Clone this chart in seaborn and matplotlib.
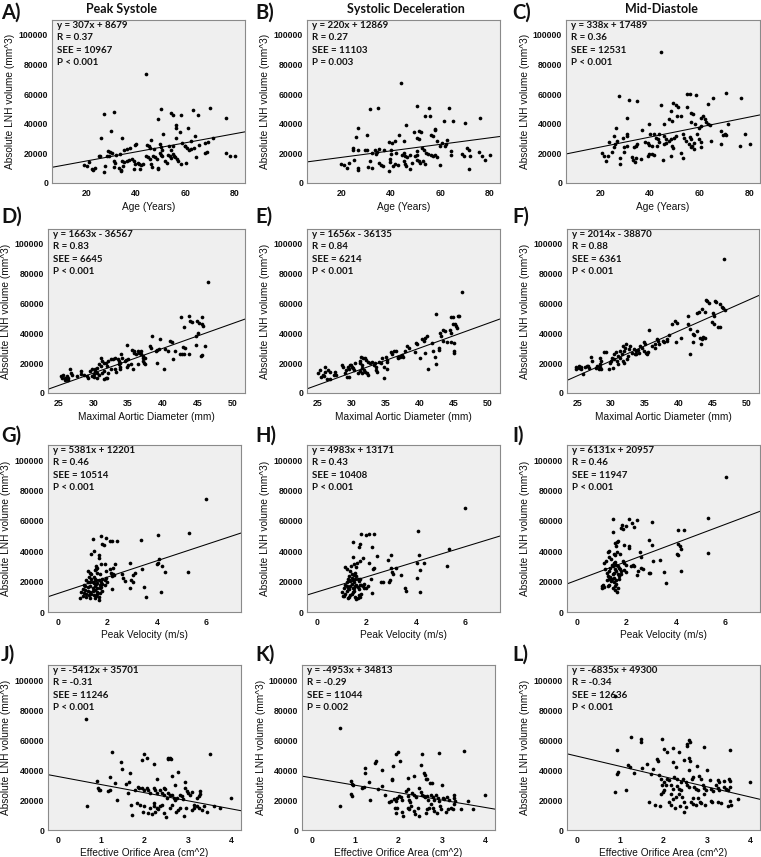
import matplotlib
matplotlib.use("Agg")
import matplotlib.pyplot as plt
import seaborn as sns
import numpy as np
import pandas as pd

# ---------------- data (x, LNH volume in thousands of mm^3) ----------------
pts_A = [(44.2,73.5),(27.4,46.5),(31.3,47.9),(50.3,49.9),(63.2,49.4),(70,50.5),(54.2,47),(55.3,45.6),(58.2,45.6),(65.3,45.6),(49.2,43.1),(76.4,43.8),(30.2,35.3),(56.3,39.1),(56.3,37.3),(61.2,36.9),(58,34.2),(26.2,30.3),(34.3,30.3),(51.1,32.8),(56.3,30.3),(64.1,31.7),(71.3,30.3),(62.4,28.1),(69.4,27.4),(68.2,27),(46.4,29.2),(39.9,25.4),(40.3,26.5),(37.9,23.6),(44.6,25.8),(45.3,24.7),(46,23.6),(47.3,22.9),(50,26),(50.4,24.2),(50.8,22.5),(53.4,24.7),(54.4,22.4),(55.1,24.7),(58.7,27),(60,24.7),(65.7,25.4),(63.5,23.6),(60.8,23.6),(59.8,24.7),(25.5,18.4),(25.3,18),(29,21.3),(29.8,20.9),(30.6,20.2),(29.4,18.4),(32.2,19.1),(33.8,19.8),(35.5,22.5),(36.5,22.9),(21.1,14.2),(19.1,12.4),(20.4,11.2),(22.4,9.4),(22.8,9),(23.5,10.1),(27.4,7.4),(27.5,11.2),(28.5,18),(31.2,14.6),(31.6,13.5),(31.2,10.6),(33.2,10.1),(34.1,9),(34.1,7.9),(34.9,11.2),(34.3,14.8),(35.3,13.9),(36.6,15),(37.5,15.5),(38.6,16.2),(39.2,14.6),(39.9,12.8),(39.5,9.4),(40.8,13.5),(41.5,12.8),(42.2,12.4),(42.8,12.8),(41.9,9.4),(44.2,18.4),(45,17.3),(45.8,16.2),(46.2,12.8),(46.6,10.6),(47,18),(48,17.3),(48.6,16.2),(48.9,9.4),(49.2,10.1),(50,20.2),(50.4,19.1),(50.6,18),(51.9,14.6),(52.6,13.5),(53,19.1),(53.9,18),(54.4,16.9),(54.9,19.8),(55.4,18.4),(55.9,17.3),(56.6,15.9),(57.3,14.6),(58.2,12.8),(60.2,13.7),(61.5,22.4),(62.4,22.9),(64.5,17.5),(68,20.2),(68.7,20.7),(76.4,20.2),(78,18),(80.3,18.4)]

pts_B = [(44.1,67.4),(31.6,50.1),(34.7,50.6),(50.5,52.1),(55.4,50.6),(63.7,50.6),(53.9,45.4),(56.1,45.4),(76,43.8),(46.1,38.9),(61.4,41.6),(65.3,42),(69.9,40.4),(58.1,36.4),(58.1,35.5),(26.9,37.1),(49.6,34.2),(51.6,34.8),(52.3,34.2),(56.3,32.6),(57,31.9),(30.5,32.6),(43.4,32.1),(41.8,28.1),(39.5,27.6),(40.6,27),(45.6,28.1),(50.6,30.3),(51.3,29.7),(25.9,31),(58.8,28.5),(60.8,27),(62.9,29.2),(62.2,26.5),(24.8,23.6),(24.8,22.5),(26.8,22.5),(29.8,22.5),(30.5,22),(33.5,22.5),(35.3,22.9),(37.3,22),(32.5,20.2),(33.9,19.8),(34.6,20.7),(40.2,22.5),(40.2,19.8),(42.2,20.2),(44.6,19.1),(45.6,20.2),(45.7,18),(46.7,17.3),(48,19.1),(50.7,21.3),(50.7,19.1),(52.7,23.6),(53.6,22.5),(54.3,20.2),(55.1,19.8),(56.3,19.1),(57.1,18.4),(58.1,19.1),(58.8,17.5),(60.1,25.2),(62.1,24.7),(64.4,21.8),(64.4,19.1),(68.7,19.8),(69.5,18.4),(71.5,22.5),(70.7,23.6),(75.7,20.9),(76.9,18.4),(78.3,15.7),(80,19.1),(71.8,9.4),(20,12.8),(21.1,12.4),(22.2,10.1),(23,13.7),(25.1,15.7),(27,10.1),(27,8.5),(30.9,10.6),(31.8,14.6),(32.6,10.1),(35.3,13.5),(36,12.4),(36.8,11.2),(39.6,16.2),(39.6,14),(39.2,7.9),(40.9,11.2),(41.8,13.1),(42.8,12.4),(45.2,14.6),(45.9,12.8),(46.1,11.2),(48,9.4),(48.8,13.5),(50,18),(50.7,15.7),(51.6,14.6),(52,13.5),(53,14.6),(53.7,13.1),(60.1,12.4),(72.2,18)]

pts_C = [(44.3,88.3),(27.6,58.7),(31.6,55.8),(34.7,55.2),(55,60.3),(56.1,60.3),(58.6,59.2),(70.4,61),(65.3,57.4),(76.4,57.6),(44.3,52.5),(49.4,54.3),(50.4,52.5),(51.3,51.3),(54.7,51.3),(63.3,53.6),(48.3,48.7),(50.9,45.3),(56.6,47.5),(57.2,46.4),(30.8,44.2),(47.5,43.5),(48.7,41.9),(52.4,45.3),(60.4,44.2),(61.4,45.3),(62,43.5),(45.6,39.7),(39.7,40.1),(39.9,33.4),(26.5,37.4),(36.7,35.7),(56.6,41.5),(57.9,39.9),(59.6,37.4),(60.6,38.3),(64.1,39),(71.3,39.7),(62.6,41.5),(63.3,39.9),(68.4,35.2),(69.4,32.5),(70,33),(70.4,32.1),(78.2,33),(30.6,33),(30.8,31.8),(25.6,31.8),(29,30.7),(41.7,33),(42.4,30.7),(43,29.6),(43.7,33.4),(45.6,31.8),(46.6,29.6),(47.7,28.5),(48.4,29.6),(49.7,30.7),(50.4,31.8),(53.1,33),(53.7,30.7),(54.4,28.5),(56.1,30.9),(56.6,29.4),(59,33),(59.6,29.6),(23.6,27.4),(25.9,26.2),(26.9,28.5),(29.6,24),(30.6,25.1),(33.6,24),(34.5,25.1),(34.9,26.2),(37.9,27.4),(39,26.7),(39.7,25.6),(40.6,25.1),(42.6,25.1),(43.4,27.4),(45.6,26.5),(46.4,27),(55.7,26.2),(56.6,24),(60.4,27.8),(64.4,28.5),(68.4,26.2),(76,25.1),(80,26.2),(57.6,27.2),(20.5,20),(21.6,18.4),(22.4,14.6),(23.2,17.9),(24.5,21),(25.6,24),(27.8,12.6),(27.8,17.1),(29.6,20.6),(32.6,17.3),(33.2,15.2),(33.9,14.4),(34.5,16.6),(36.3,16.1),(39,17.9),(39.7,19.5),(40.7,19.5),(41.4,18.8),(45.1,15.5),(48.4,17.9),(49,24.7),(49.4,23.5),(52.4,20.2),(53.4,16.6),(56.9,25.3),(57.6,22.9),(60.4,24.2)]

pts_D = [(46.5,74.5),(42.6,50.8),(43.8,51.9),(45.6,50.8),(43.1,44),(43.9,48.1),(44.2,47.4),(44.9,48.5),(45.2,47),(45.6,46.3),(45.8,45.1),(45.1,40.2),(44.8,37.9),(38.5,37.9),(34.9,32.3),(41,34.8),(41.3,34.5),(39.6,36.1),(42.9,30.9),(43.2,30.5),(44.8,32.1),(46,31.6),(38.1,31.6),(38.3,30.5),(39,28.2),(39.2,28.7),(39.4,29.3),(40.3,29.3),(40.8,28.2),(41.7,28.2),(42.4,26),(42.7,26),(43,26.4),(43.7,26),(45.5,24.8),(45.6,25.8),(41.4,22.6),(40.2,15.8),(39.2,20.3),(36.4,28.2),(36.6,27.1),(36.9,28.2),(35.9,27.1),(36.2,26),(36.9,26),(37.1,24.8),(37.2,23.7),(37.5,23.7),(37.2,21.4),(37.5,19.2),(37.3,19.9),(35.6,28.7),(35.8,28.2),(34,26),(34.2,23.7),(34.5,21.4),(34.7,21.9),(35,22.6),(33.5,22.6),(33.7,21.4),(33.8,20.3),(33.7,19.2),(33.8,17.4),(33.8,16.3),(32.9,22.8),(33.1,23.7),(32.5,23),(32.1,21.4),(31.9,19.9),(32,18.1),(31.1,23.7),(31.3,21.4),(31.6,20.3),(30.8,19.2),(31.1,18.1),(30.6,17),(30.2,15.8),(30.3,14.7),(30.6,13.5),(29.6,14.7),(29.8,15.8),(30.1,13),(29.8,11.3),(30.1,10.6),(29.1,11.3),(29.3,10.2),(30.6,10.2),(30.8,12.4),(31.3,13.5),(31.6,14.7),(31.8,10.2),(32.1,13.5),(32.5,15.8),(33.1,15.8),(33.3,14.2),(31.6,9.7),(32,10.2),(28.2,14.7),(28.2,13),(28.6,12.4),(27.7,11.3),(26.7,15.8),(26.8,13.5),(26.9,12.4),(26.2,11.3),(26.4,10.2),(26,10.2),(25.9,9),(26.4,8.6),(25.4,11.3),(25.5,10.2),(25.7,12.4),(35.7,16.3),(35.4,19.6),(36.4,19.2),(34.9,17.4),(35,18.6)]

pts_E = [(46.2,67.9),(42.4,53),(44.6,50.8),(44.9,50.8),(45.6,51.5),(45.8,51.5),(44.9,46.3),(45.2,46.3),(45.4,44.7),(45.5,43.6),(44.4,42.4),(43.5,42.4),(43.7,41.3),(43,40.2),(43.2,37.9),(44.6,40.2),(43.5,35),(44,34.1),(44.6,34.5),(45,33.8),(40.8,37.2),(41.1,37.9),(40.3,36.1),(40.6,35),(41.8,33.4),(42,28.2),(42.8,28.9),(42.9,30),(45,28.2),(45.1,27.1),(39.5,33.4),(39.7,32.8),(38.1,31.2),(38.4,30),(37.8,28.2),(37.4,25.5),(37.6,24.4),(39.4,27.3),(40.8,26.6),(42.3,24.4),(42.4,19.6),(41.3,15.8),(40,23.3),(36.9,23.3),(37.1,24.4),(36.3,28.2),(36.6,28.2),(36.9,24.4),(37.3,25.1),(35.8,27.8),(35.9,26),(35.1,24.4),(35.2,22.1),(35.3,21),(34.8,17.6),(35.3,16),(34.8,9.9),(34,21),(34.3,19.9),(34.5,23.3),(33.5,19.9),(33.6,17.6),(33,21),(33.3,18.7),(33.6,15.3),(33.7,14.2),(32.5,21),(32.8,19.9),(32,23.3),(32.2,22.1),(31.4,24.4),(31.7,23.3),(31.3,19.9),(31.5,18.7),(31.6,16.5),(31.2,21.4),(30.5,19.9),(30.1,17.6),(30.2,16.5),(30.4,15.3),(29.8,18.7),(30,18.7),(29.5,17.6),(29.7,16),(29.2,15.3),(29,13.1),(29.3,10.8),(29.6,10.4),(28.6,18.7),(28.8,17.6),(31.5,13.1),(31.8,15.3),(32,14.2),(32.4,12.4),(32.3,13.5),(31.3,14.7),(31,13.1),(27.6,14.2),(27.8,12.4),(27.4,12),(26.6,15.3),(26.9,14.2),(26.1,17.6),(26.2,14.2),(26,11.3),(26.4,9.7),(25.8,12.4),(25.6,10.8),(25.1,13.1),(25.4,15.3),(26.9,9.7)]

pts_F = [(46.6,89.6),(44,62.1),(44.2,61.4),(44.4,60.3),(45.3,61.6),(45.5,60.9),(46.1,59.4),(46.3,58),(46.5,57.1),(46.8,55.8),(43.4,56.4),(43.8,54.2),(42.9,54.2),(42.6,53.5),(45,53.5),(45.1,51.9),(41.4,51.9),(44.9,47.9),(45.2,46.3),(45.8,44.5),(46,44),(39.4,48.1),(39.7,46.7),(39,46.3),(41.3,46.3),(41.6,42.9),(42.6,41.8),(42,39.7),(42.2,39),(43.1,36.6),(43.4,36.1),(43.6,37.7),(43.8,36.8),(42.1,34.1),(43.2,33.2),(41.7,26.4),(39.5,33.9),(38.2,36.1),(38.3,35),(37.6,35),(37.8,33.9),(38.6,38.8),(40.3,36.8),(36.7,36.1),(36.9,35),(37.1,33.2),(36.1,31.6),(35.6,42.2),(36.4,32.7),(36.5,30.5),(34.8,33.9),(35,33.2),(34.3,31.6),(34.5,30.5),(34.8,28.2),(35.1,27.1),(35.3,26),(35.5,27.5),(34,28.7),(34.1,27.1),(33.6,28.2),(33.7,26.4),(33.4,29.3),(33.5,26),(33.1,27.1),(32.7,29.3),(32.8,31.6),(32.1,30.5),(32.2,32.7),(31.7,31.6),(31.9,28.2),(31.3,28.2),(31.6,26.4),(31,25.1),(31.3,23.7),(30.7,27.5),(30.5,26),(30.2,23.7),(30.4,22.6),(30,21.4),(29.8,20.3),(30.8,21.4),(31,19.6),(29.7,15.8),(30.3,16.9),(31.7,21.4),(31.9,20.3),(32.4,22.6),(32.5,24.8),(29,27.8),(29.3,27.5),(28.3,23.7),(28.5,21.4),(28.3,19.2),(28.4,17.4),(28.2,16.3),(28.5,15.8),(27.9,18.1),(27.8,16.5),(27.2,21.4),(27,24.2),(26.6,18.1),(26.7,16.9),(26.4,18.1),(26.1,17.4),(25.5,17.4),(25.6,15.8),(25.3,18.1),(25.2,16.5),(25.9,12.9),(24.8,15.8),(24.9,17.4)]

pts_G = [(6.0,74.3),(1.74,50.3),(1.42,48.1),(1.95,48.8),(1.79,44.7),(1.85,44.3),(2.09,46.5),(2.18,46.5),(2.39,46.5),(3.37,47.4),(4.04,50.8),(5.28,51.9),(1.46,40.3),(1.35,38),(1.66,37.4),(1.66,35.8),(4.08,34.7),(4.04,32.4),(4.02,31.3),(4.19,30.2),(4.31,26.4),(3.39,28.6),(2.9,32),(2.29,31.8),(2.22,29.1),(1.89,31.3),(1.75,31.3),(1.55,30.2),(1.59,29.1),(2.09,28.4),(2.16,25.7),(2.22,25.3),(2.59,25.3),(2.63,22.4),(3.05,24.2),(3.1,25.7),(2.97,21.3),(3.03,19.5),(2.7,20.1),(5.26,26.4),(3.46,16.3),(3.57,10.1),(4.16,13.4),(2.92,15.7),(2.2,15),(1.95,22.4),(1.2,27),(1.3,26),(1.35,25),(1.5,27.5),(1.55,28.5),(1.6,26),(1.7,25),(1.8,22),(1.9,21),(1.25,23),(1.35,22),(1.45,23),(1.5,22),(1.55,21),(1.65,21),(1.75,20),(1.15,21),(1.2,20),(1.3,19.5),(1.4,20),(1.45,19),(1.55,18.5),(1.6,19),(1.7,18),(1.8,18.5),(1.05,18),(1.1,17),(1.2,16.5),(1.3,17),(1.4,16),(1.5,17),(1.6,16),(1.7,15.5),(1.75,16.5),(1.9,17.5),(1.0,15),(1.1,14.5),(1.2,14),(1.3,13.5),(1.4,14),(1.5,14.5),(1.6,13),(1.7,12.5),(0.95,13),(1.05,12.5),(1.15,12),(1.25,11.5),(1.35,12),(1.45,11),(1.55,10.5),(1.65,10),(1.0,10.5),(1.15,10),(1.3,9.5),(1.5,9),(1.65,8),(0.9,9),(1.6,12),(1.8,14),(2.0,20),(1.95,27),(2.2,24),(2.25,24.5)]

pts_H = [(6.0,68.3),(4.07,53.2),(1.78,51.4),(1.98,50.9),(2.12,51.4),(2.32,51.4),(1.44,46.4),(1.75,44.6),(1.71,43),(2.21,43),(5.32,41.2),(4.11,37.8),(2.99,37.8),(2.43,36.7),(1.47,36),(1.85,35.3),(1.75,33.7),(1.64,32.6),(2.86,34.4),(1.58,29.9),(1.51,31.4),(2.12,32.1),(4.03,32.1),(4.34,32.6),(1.15,29.9),(1.38,30.3),(2.32,28.7),(2.25,28),(2.99,29.2),(3.19,28.7),(3.03,26.5),(3.4,24.7),(4.17,27.6),(5.25,30.3),(3.07,24.9),(4.04,22.6),(2.18,21.9),(2.95,21.3),(2.91,19.7),(2.61,19.7),(2.69,19.7),(3.56,15.6),(3.6,14),(4.17,13.3),(2.22,12.7),(2.05,17.4),(1.0,13),(1.05,10.5),(1.1,10.5),(1.15,12),(1.2,14),(1.25,9.5),(1.3,10),(1.35,11),(1.4,12),(1.45,13),(1.5,14),(1.55,10),(1.6,8.5),(1.65,9.5),(1.7,11),(1.75,10),(1.8,12),(1.1,16),(1.15,18),(1.2,17),(1.25,16),(1.3,15),(1.35,17),(1.4,18.5),(1.45,16),(1.5,15.5),(1.55,17),(1.6,18),(1.65,16.5),(1.7,15),(1.75,17.5),(1.8,18),(1.85,17),(1.9,18.5),(1.2,20),(1.25,22),(1.3,21),(1.35,20.5),(1.4,22.5),(1.45,21),(1.5,20),(1.55,22),(1.6,24),(1.65,21.5),(1.7,20.5),(1.75,22),(1.3,24),(1.4,25),(1.5,24.5),(1.55,26),(1.2,28.5),(1.35,27),(1.9,16),(2.0,16)]

pts_I = [(6.03,89.2),(1.44,61.3),(2.12,61.3),(2.43,60.7),(3.02,59.6),(2.21,58.4),(2.29,56.2),(1.98,56.9),(1.81,57.5),(1.78,55.5),(1.85,54.5),(5.28,61.8),(1.44,52.4),(4.1,53.9),(4.34,53.9),(1.62,46.3),(1.54,45.6),(1.67,46.7),(1.59,43.4),(2.9,47.6),(3.03,44.3),(4.1,44.9),(4.15,43.6),(4.21,41.6),(1.91,44.3),(2.12,43.3),(2.12,42),(1.31,40.4),(1.24,39.3),(1.48,38.2),(1.54,37.5),(1.64,39.3),(1.75,38.2),(2.56,39.8),(4.1,37.5),(4.05,38.2),(5.28,38.9),(3.37,34.2),(3.06,33.7),(2.61,36),(1.31,36),(1.38,34.9),(1.17,33.5),(1.1,32.3),(1.85,33.5),(1.91,32.3),(1.98,31.2),(2.18,30.6),(2.25,31.2),(2.29,30),(2.61,29.2),(2.69,28.1),(2.92,25.8),(2.96,25.4),(3.53,26.3),(4.21,27),(3.6,19.1),(2.45,27),(2.43,24.3),(1.91,27.9),(1.98,26.3),(1.06,18),(1.1,16.4),(1.03,17.3),(1.24,17),(1.31,18),(1.38,20.2),(1.48,19.6),(1.58,18.7),(1.64,13),(1.44,15.7),(1.54,16.9),(1.15,28),(1.2,26),(1.3,27),(1.35,29),(1.4,31),(1.45,30),(1.5,32),(1.55,33),(1.6,31),(1.65,30),(1.7,29),(1.75,28),(1.8,27),(1.25,24),(1.35,23),(1.45,25),(1.5,26),(1.55,28),(1.6,27),(1.65,25),(1.7,24),(1.8,25),(1.2,21),(1.3,21.5),(1.4,22),(1.5,22.5),(1.6,21),(1.7,22),(1.0,15.5),(1.55,14.5),(1.65,16)]

pts_J = [(0.65,74.3),(1.25,51.9),(1.46,45.4),(1.48,40.7),(1.98,50.8),(1.95,47),(2.05,48.1),(2.22,44.3),(2.54,47.2),(2.55,48.3),(2.59,47.9),(2.62,47.2),(3.5,51),(1.67,38),(2.63,36.2),(2.77,38.5),(1.21,35.3),(1.32,31.3),(1.58,30.6),(1.65,32),(2.28,34.2),(2.46,28.2),(2.48,27.5),(2.71,29.8),(2.94,32),(1.86,28.6),(1.77,26.8),(0.9,32.9),(0.92,28),(0.95,26.8),(0.98,26.8),(1.17,26.2),(1.21,26.8),(0.67,16.3),(1.36,19.7),(1.63,24.6),(1.88,28),(1.94,28),(1.98,26.8),(2.05,28),(2.09,26.8),(2.13,24.6),(2.22,28),(2.25,26.4),(2.28,24.6),(2.35,26.8),(2.4,24.6),(2.44,23.5),(2.52,21.3),(2.55,24.6),(2.59,23.5),(2.63,23.1),(2.67,21.3),(2.71,20.1),(2.75,21.3),(2.82,23.5),(2.86,22.4),(2.88,20.8),(2.94,28),(2.98,25.7),(3.0,24.6),(3.05,23.5),(3.09,25.3),(3.21,21.3),(3.25,22.4),(3.27,23.9),(3.28,25.7),(3.73,15),(3.59,15.7),(3.44,12.3),(4.0,21.3),(1.71,10.1),(1.68,16.6),(1.82,17.9),(1.9,16.8),(1.96,12.3),(1.98,15.7),(2.09,11.4),(2.13,14.5),(2.17,10.5),(2.21,17.9),(2.22,15.7),(2.25,12.3),(2.28,15),(2.32,14.1),(2.36,15.7),(2.4,16.8),(2.46,11.2),(2.5,8.5),(2.59,14.5),(2.63,16.8),(2.73,11.9),(2.78,13.4),(2.82,15),(2.9,9.6),(2.96,15),(3.09,13.4),(3.13,16.8),(3.15,14.5),(3.21,15.7),(3.25,14.5),(3.32,13.4),(3.38,15.7)]

pts_K = [(0.65,67.9),(1.99,51.7),(1.94,51),(2.55,51),(2.94,51.5),(3.5,53),(2.04,46.3),(1.48,45.8),(1.46,44.7),(2.52,43.1),(1.23,41.3),(1.23,38),(1.63,40),(1.87,42.5),(1.85,34.2),(1.86,33.5),(2.22,35),(2.35,35.7),(2.59,38),(2.61,36.9),(2.63,34.2),(2.65,33.7),(2.73,31.2),(2.77,31.2),(2.99,29.7),(0.9,33),(0.92,30.8),(0.96,30.1),(1.17,28.1),(1.21,29),(1.32,31.9),(1.63,29.2),(1.52,27.4),(0.9,24),(0.92,22.9),(0.65,15.7),(1.35,20),(1.68,23.4),(1.78,18.4),(1.82,19.5),(1.9,20.7),(1.94,19.5),(1.96,21.1),(2.02,22.5),(2.05,22),(2.09,20.2),(2.17,26.3),(2.21,27.4),(2.22,22.9),(2.25,20.2),(2.27,18.4),(2.32,24.7),(2.36,23.6),(2.4,22),(2.48,28.1),(2.52,25.2),(2.55,23.4),(2.59,22.5),(2.61,21.8),(2.65,22.5),(2.67,20.2),(2.75,23.6),(2.79,22),(2.82,20.2),(2.86,23.6),(2.9,21.3),(2.94,19.1),(3.02,21.3),(3.05,20.7),(3.11,22),(3.17,20.2),(3.27,23.1),(3.28,21.6),(3.3,19.3),(3.28,17.1),(3.59,19.3),(3.71,13.9),(4.0,23.4),(1.92,15),(1.96,14.4),(1.94,11.2),(2.11,9.4),(2.09,12.1),(2.21,15),(2.25,13.9),(2.28,16.2),(2.35,12.8),(2.38,10.6),(2.44,15),(2.48,9.4),(2.63,11.5),(2.65,13.9),(2.71,15),(2.75,17.3),(2.79,14.4),(2.82,12.8),(2.88,11.2),(2.96,16.2),(2.98,13.9),(3.09,12.1),(3.13,13.9),(3.21,15),(3.25,13.9),(3.44,13.9)]

pts_L = [(0.88,89.4),(1.25,61.7),(1.49,60.6),(1.48,58.6),(1.96,61),(2.58,59.9),(2.61,59),(2.55,57.2),(2.53,56.1),(2.94,55.6),(3.52,53.4),(0.94,53.4),(2.02,54.3),(2.22,54.5),(2.08,52.3),(2.36,51.8),(1.86,47.3),(1.88,46.2),(1.63,43.9),(1.75,40.5),(1.18,43.2),(1.23,42.1),(1.51,41.4),(2.23,45.3),(2.28,42.1),(2.48,46.6),(2.59,48.2),(2.62,46.2),(2.77,42.6),(2.59,40.3),(3.0,40.3),(0.92,37.6),(0.96,38.7),(1.31,38.3),(1.71,37.6),(1.9,36.5),(1.94,34.2),(2.09,34.2),(2.13,33.1),(2.25,35.4),(2.3,33.8),(2.4,32),(2.44,33.8),(2.65,34.2),(2.67,35.4),(2.82,35.8),(2.86,34.2),(3.08,33.1),(3.25,33.1),(3.28,32),(3.4,32.4),(3.5,34.2),(3.52,32.4),(2.02,32),(2.05,29.7),(2.17,29.7),(2.21,27.5),(2.32,29.3),(2.36,27.5),(2.4,26.4),(2.52,32),(2.55,29.7),(2.59,28.6),(2.71,28.6),(2.75,27.5),(2.79,26.8),(2.9,29.7),(2.94,27.9),(2.98,26.4),(3.09,27.5),(3.13,26.1),(3.21,29.7),(3.25,27.9),(3.28,26.4),(3.4,28.8),(3.44,27.5),(3.48,26.4),(3.52,28.4),(0.88,25.2),(1.13,27),(1.96,30.2),(2.02,26.4),(1.98,25.2),(1.94,24.1),(2.17,24.1),(2.21,20.7),(2.28,22.3),(2.36,23.9),(2.42,22.3),(2.48,18.5),(2.63,18.9),(2.67,21.2),(2.8,21.2),(2.85,18.9),(2.94,24.1),(3.09,19.4),(3.26,18.5),(3.52,19.4),(3.55,16.7),(3.71,20.7),(4.0,32),(1.67,18.5),(1.81,16.7),(1.92,16.2),(2.12,18.9),(2.17,16.7),(2.27,14.6),(2.38,16.2),(2.48,12.2),(2.52,15.1),(2.67,17.3),(2.75,16.7),(2.96,16.7),(2.86,18),(3.11,18.5),(3.32,18),(3.48,16.2)]

panel_letters = ["A)", "B)", "C)", "D)", "E)", "F)", "G)", "H)", "I)", "J)", "K)", "L)"]
column_titles = ["Peak Systole", "Systolic Deceleration", "Mid-Diastole"]
x_labels = ["Age (Years)", "Maximal Aortic Diameter (mm)", "Peak Velocity (m/s)", "Effective Orifice Area (cm^2)"]
y_label = "Absolute LNH volume (mm^3)"
slopes = [307, 220, 338, 1663, 1656, 2014, 5381, 4983, 6131, -5412, -4953, -6835]
intercepts = [8679, 12869, 17489, -36567, -36135, -38870, 12201, 13171, 20957, 35701, 34813, 49300]
r_text = ["0.37", "0.27", "0.36", "0.83", "0.84", "0.88", "0.46", "0.43", "0.46", "-0.31", "-0.29", "-0.34"]
see_text = ["10967", "11103", "12531", "6645", "6214", "6361", "10514", "10408", "11947", "11246", "11044", "12636"]
p_text = ["P < 0.001", "P = 0.003", "P < 0.001", "P < 0.001", "P < 0.001", "P < 0.001",
          "P < 0.001", "P < 0.001", "P < 0.001", "P < 0.001", "P = 0.002", "P < 0.001"]
x_ticks = [[20, 40, 60, 80], [25, 30, 35, 40, 45, 50], [0, 2, 4, 6], [0, 1, 2, 3, 4]]
x_limits = [(6.2, 84.2), (23.5, 51.8), (-0.4, 7.4), (-0.22, 4.22)]
y_ticks = [0, 20000, 40000, 60000, 80000, 100000]

all_pts = [pts_A, pts_B, pts_C, pts_D, pts_E, pts_F, pts_G, pts_H, pts_I, pts_J, pts_K, pts_L]

# ---------------- layout (pixel boxes: left, top, right, bottom) ----------------
W, H = 761, 857
boxes = [(52, 20, 245, 183), (307, 20, 500, 183), (566, 20, 760, 183),
         (48, 229, 245, 393), (307, 229, 500, 393), (567, 229, 759, 393),
         (48, 445, 241, 612), (307, 445, 500, 612), (567, 445, 760, 612),
         (48, 665, 241, 830), (302, 665, 495, 830), (567, 665, 760, 830)]
letter_pos = [(1, 12.5), (255, 12.5), (512, 12.5),
              (1, 217), (255, 217), (512, 217),
              (1, 436), (255, 436), (512, 436),
              (1, 654.5), (255, 654.5), (512, 654.5)]
title_pos = [(121, 9), (406, 9), (661, 9)]

sns.set_theme(style="white")
plt.rcParams['font.family'] = ['Liberation Sans', 'DejaVu Sans']
BG = "#efefef"

fig = plt.figure(figsize=(W / 100, H / 100), dpi=100)
fig.patch.set_facecolor("white")

for i, pts in enumerate(all_pts):
    row, col = divmod(i, 3)
    l, t, r, b = boxes[i]
    ax = fig.add_axes([l / W, 1 - b / H, (r - l) / W, (b - t) / H])
    ax.set_facecolor(BG)
    arr = np.array(pts, dtype=float)
    df = pd.DataFrame({"x": arr[:, 0], "vol": arr[:, 1] * 1000})
    sns.scatterplot(data=df, x="x", y="vol", ax=ax, color="black", s=7,
                    linewidth=0, legend=False, zorder=3)
    ax.axline((0, intercepts[i]), slope=slopes[i], color="black", lw=0.75, zorder=2)
    ax.set_xlim(*x_limits[row])
    ax.set_ylim(0, 110000)
    ax.set_xticks(x_ticks[row])
    ax.set_yticks(y_ticks)
    ax.set_yticklabels([str(v) for v in y_ticks])
    ax.tick_params(axis="both", direction="out", length=2, width=0.6, colors="#333333",
                   labelsize=6.3, labelcolor="#111111")
    ax.tick_params(axis="y", pad=0.8)
    ax.tick_params(axis="x", pad=2.5)
    for lab in ax.get_xticklabels() + ax.get_yticklabels():
        lab.set_fontweight("bold")
    for sp in ax.spines.values():
        sp.set_color("#8a8a8a")
        sp.set_linewidth(0.8)
    ax.set_xlabel(x_labels[row], fontsize=7.3, color="#111111")
    ax.set_ylabel(y_label, fontsize=7.3, color="#111111")
    ax.xaxis.set_label_coords(0.5, -18.5 / (b - t))
    ax.yaxis.set_label_coords(-36.5 / (r - l), 0.5)

    sign = "+" if intercepts[i] >= 0 else "-"
    lines = [f"y = {slopes[i]}x {sign} {abs(intercepts[i])}", f"R = {r_text[i]}",
             f"SEE = {see_text[i]}", p_text[i]]
    for k, s in enumerate(lines):
        ax.annotate(s, xy=(0, 1), xycoords="axes fraction",
                    xytext=(5, -5.5 - 12.3 * k), textcoords="offset pixels",
                    ha="left", va="center", fontsize=7, fontweight="bold",
                    family=["Lato", "DejaVu Sans"], color="#111111", zorder=5)

    lx, ly = letter_pos[i]
    fig.text(lx / W, 1 - ly / H, panel_letters[i], ha="left", va="center",
             fontsize=14.5, fontweight="bold", family=["Lato", "DejaVu Sans"], color="#111111")

for c in range(3):
    tx, ty = title_pos[c]
    fig.text(tx / W, 1 - ty / H, column_titles[c], ha="center", va="center",
             fontsize=9, fontweight="bold", family=["Lato", "DejaVu Sans"], color="#111111")

fig.savefig("out.png", dpi=100, facecolor="white")
